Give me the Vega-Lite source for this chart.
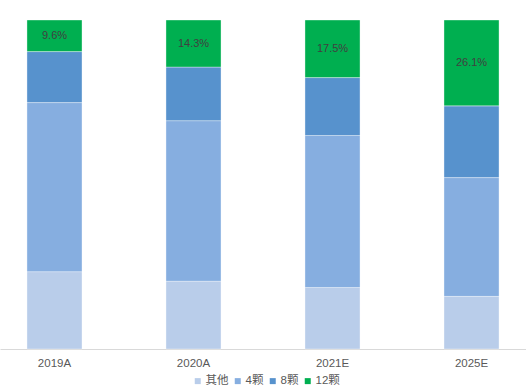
{
  "$schema": "https://vega.github.io/schema/vega-lite/v6.json",
  "width": 526,
  "height": 329,
  "autosize": {"type": "none"},
  "padding": {"top": 20, "left": 0, "right": 0, "bottom": 43},
  "background": "white",
  "config": {
    "view": {"stroke": null},
    "font": "Liberation Sans, Noto Sans CJK SC, sans-serif"
  },
  "data": {
    "values": [
      {"year": "2019A", "series": "其他", "o": 1, "v": 23.5},
      {"year": "2019A", "series": "4颗", "o": 2, "v": 51.4},
      {"year": "2019A", "series": "8颗", "o": 3, "v": 15.5},
      {"year": "2019A", "series": "12颗", "o": 4, "v": 9.6},
      {"year": "2020A", "series": "其他", "o": 1, "v": 20.6},
      {"year": "2020A", "series": "4颗", "o": 2, "v": 48.8},
      {"year": "2020A", "series": "8颗", "o": 3, "v": 16.3},
      {"year": "2020A", "series": "12颗", "o": 4, "v": 14.3},
      {"year": "2021E", "series": "其他", "o": 1, "v": 18.7},
      {"year": "2021E", "series": "4颗", "o": 2, "v": 46.2},
      {"year": "2021E", "series": "8颗", "o": 3, "v": 17.6},
      {"year": "2021E", "series": "12颗", "o": 4, "v": 17.5},
      {"year": "2025E", "series": "其他", "o": 1, "v": 16.0},
      {"year": "2025E", "series": "4颗", "o": 2, "v": 36.1},
      {"year": "2025E", "series": "8颗", "o": 3, "v": 21.8},
      {"year": "2025E", "series": "12颗", "o": 4, "v": 26.1}
    ]
  },
  "encoding": {
    "x": {
      "field": "year",
      "type": "nominal",
      "sort": null,
      "scale": {"paddingInner": 0.604, "paddingOuter": 0.194},
      "axis": {
        "title": null,
        "labelAngle": 0,
        "labelColor": "#595959",
        "labelFontSize": 11.5,
        "labelPadding": 8,
        "ticks": false,
        "domainColor": "#D9D9D9",
        "domainWidth": 1
      }
    }
  },
  "layer": [
    {
      "mark": {"type": "bar", "stroke": "#ffffff", "strokeWidth": 0.6, "strokeOpacity": 0.6},
      "encoding": {
        "y": {
          "field": "v",
          "type": "quantitative",
          "stack": "normalize",
          "scale": {"domain": [0, 1], "nice": false},
          "axis": null
        },
        "color": {
          "field": "series",
          "type": "nominal",
          "scale": {
            "domain": ["其他", "4颗", "8颗", "12颗"],
            "range": ["#B9CDEA", "#86AEE0", "#5792CD", "#00AF50"]
          },
          "legend": {
            "title": null,
            "orient": "none",
            "legendX": 192,
            "legendY": 355,
            "direction": "horizontal",
            "symbolType": "square",
            "symbolSize": 36,
            "symbolStrokeWidth": 0,
            "labelColor": "#595959",
            "labelFontSize": 11.5,
            "labelOffset": 2,
            "columnPadding": 3
          }
        },
        "order": {"field": "o", "type": "quantitative"}
      }
    },
    {
      "transform": [
        {"stack": "v", "groupby": ["year"], "sort": [{"field": "o", "order": "ascending"}], "offset": "normalize", "as": ["v0", "v1"]},
        {"filter": "datum.series === '12颗'"},
        {"calculate": "(datum.v0 + datum.v1) / 2", "as": "mid"},
        {"calculate": "format(datum.v, '.1f') + '%'", "as": "lab"}
      ],
      "mark": {"type": "text", "color": "#404040", "fontSize": 11, "baseline": "middle"},
      "encoding": {
        "y": {"field": "mid", "type": "quantitative", "scale": {"domain": [0, 1], "nice": false}, "axis": null},
        "text": {"field": "lab"}
      }
    }
  ]
}
